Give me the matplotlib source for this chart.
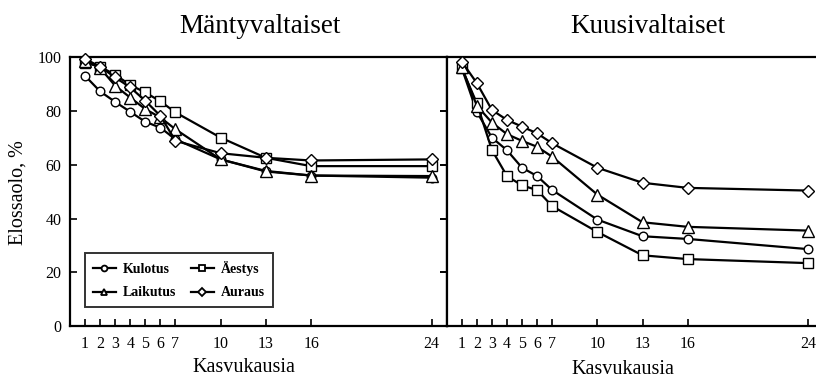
import matplotlib
matplotlib.use("Agg")
import matplotlib.pyplot as plt
from matplotlib.lines import Line2D

years = [1, 2, 3, 4, 5, 6, 7, 10, 13, 16, 24]
xtick_labels = ["1", "2", "3", "4", "5", "6", "7", "10", "13", "16", "24"]
yticks = [0, 20, 40, 60, 80, 100]

# Mäntyvaltaiset (left)
m_kulotus = [93.1, 87.3, 83.4, 79.7, 76.0, 73.8, 69.5, 62.0, 57.5, 56.0, 55.2]
m_aestys = [98.0, 96.5, 93.5, 89.7, 86.9, 83.6, 79.5, 70.1, 62.6, 59.5, 59.5]
m_laikutus = [98.8, 96.0, 89.4, 85.0, 80.7, 77.6, 73.2, 62.0, 57.7, 56.0, 55.8]
m_auraus = [99.4, 96.5, 92.5, 88.8, 83.8, 78.2, 68.9, 64.3, 62.6, 61.6, 62.0]

# Kuusivaltaiset (right)
k_kulotus = [96.0, 79.7, 70.1, 65.4, 58.9, 55.8, 50.6, 39.6, 33.4, 32.4, 28.6]
k_aestys = [95.9, 82.9, 65.5, 55.8, 52.3, 50.6, 44.6, 35.0, 26.3, 24.9, 23.4]
k_laikutus = [96.3, 82.0, 75.7, 71.4, 68.9, 66.7, 63.0, 48.9, 38.6, 36.9, 35.5]
k_auraus = [98.4, 90.4, 80.4, 76.7, 74.2, 71.7, 68.0, 58.9, 53.3, 51.4, 50.4]

series_names = ["Kulotus", "Äestys", "Laikutus", "Auraus"]
markers = ["o", "s", "^", "D"]
msizes = [6.2, 6.8, 8.0, 6.5]

plt.rcParams['font.family'] = ['Liberation Serif', 'DejaVu Serif']

W, H = 816, 378
fig = plt.figure(figsize=(W / 100, H / 100), dpi=100)

ax_left_px, ax_mid_px = 70, 446.7
bot_px, top_px = 326, 57.3
aw = (ax_mid_px - ax_left_px) / W
ab = (H - bot_px) / H
ah = (bot_px - top_px) / H

ax1 = fig.add_axes([ax_left_px / W, ab, aw, ah])
ax2 = fig.add_axes([ax_mid_px / W, ab, aw, ah])

left_data = [m_kulotus, m_aestys, m_laikutus, m_auraus]
right_data = [k_kulotus, k_aestys, k_laikutus, k_auraus]

lines = {}
for ax, data in ((ax1, left_data), (ax2, right_data)):
    for vals, mk, ms, name in zip(data, markers, msizes, series_names):
        ax.plot(years, vals, color='black', lw=1.6, marker=mk, ms=ms,
                mfc='white', mec='black', mew=1.0, label=name, clip_on=False, zorder=3)
    ax.set_xlim(0, 25)
    ax.set_ylim(0, 100)
    ax.set_xticks(years)
    ax.set_xticklabels(xtick_labels)
    ax.tick_params(axis='x', direction='in', length=5, width=1.2, labelsize=11.5, pad=7)
    for s in ax.spines.values():
        s.set_linewidth(1.6)

ax1.set_yticks(yticks)
ax1.set_yticklabels([str(v) for v in yticks])
ax1.tick_params(axis='y', direction='in', length=5, width=1.2, labelsize=11.5, pad=6,
                right=True)
ax2.set_yticks(yticks)
ax2.tick_params(axis='y', direction='out', length=5, width=1.2, labelleft=False)
ax2.spines['right'].set_visible(False)

handles = {name: Line2D([0], [0], color='black', lw=1.6, marker=mk, ms=4.2, mfc='white',
                        mec='black', mew=1.3) for name, mk in zip(series_names, markers)}
# row-wise order: Kulotus, Äestys / Laikutus, Auraus  (matplotlib fills columns first)
leg_order = ["Kulotus", "Laikutus", "Äestys", "Auraus"]
leg = ax1.legend([handles[n] for n in leg_order], leg_order, ncol=2, loc='lower left',
                 bbox_to_anchor=((85 - ax_left_px) / (ax_mid_px - ax_left_px),
                                 (bot_px - 307) / (bot_px - top_px),
                                 (273 - 85) / (ax_mid_px - ax_left_px),
                                 (307 - 253) / (bot_px - top_px)),
                 mode='expand', prop={'weight': 'bold', 'size': 10}, frameon=True,
                 fancybox=False, edgecolor='black', handlelength=1.7,
                 handletextpad=0.5, columnspacing=0.8, borderpad=0.55, labelspacing=0.75,
                 borderaxespad=0)
leg.get_frame().set_linewidth(1.4)

fig.text(260 / W, 1 - 33 / H, "Mäntyvaltaiset", ha='center', va='baseline', fontsize=19.5)
fig.text(648 / W, 1 - 33 / H, "Kuusivaltaiset", ha='center', va='baseline', fontsize=19.5)
fig.text(243.5 / W, 1 - 372 / H, "Kasvukausia", ha='center', va='baseline', fontsize=14.5)
fig.text(622.5 / W, 1 - 374 / H, "Kasvukausia", ha='center', va='baseline', fontsize=14.5)
fig.text(18 / W, 1 - 193 / H, "Elossaolo, %", ha='center', va='center', rotation=90,
         fontsize=14.5)

fig.savefig("out.png", dpi=100)
